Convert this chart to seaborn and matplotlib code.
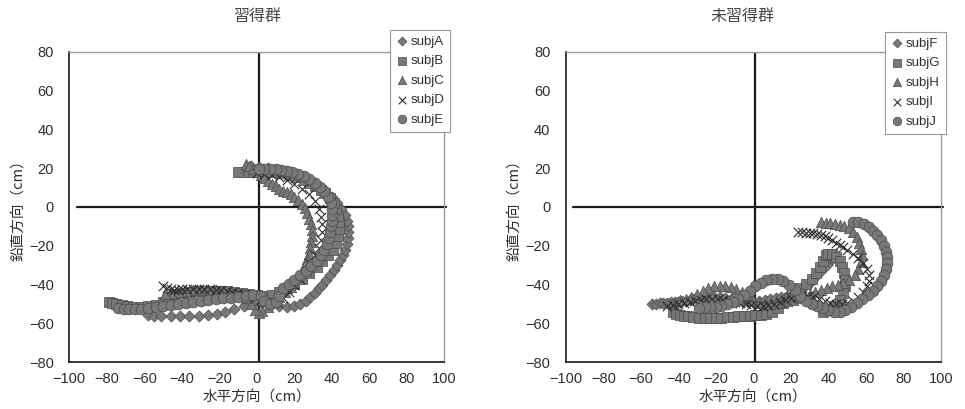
import numpy as np
import pandas as pd
import matplotlib
matplotlib.use("Agg")
import matplotlib.pyplot as plt
import seaborn as sns

# ---------------- data ----------------
panel_titles = ["習得群", "未習得群"]
x_label = "水平方向（cm）"
y_label = "鉛直方向（cm）"
x_ticks = [-100, -80, -60, -40, -20, 0, 20, 40, 60, 80, 100]
y_ticks = [-80, -60, -40, -20, 0, 20, 40, 60, 80]

# reference axes lines (drawn as data series)
hline_x = [-96, 101]
hline_y = [0, 0]
vline_x = [1, 1]
vline_y = [80, -80]

# ---- 習得群 ----
subjA_x = [-58, -55, -51, -46, -41, -36, -31, -26, -21, -17, -12, -7, -2, 3, 8, 12, 16, 20, 23, 26,
           28.5, 31, 33, 35, 37, 39, 41, 43, 44.5, 46, 47, 48, 48.5, 48.5, 48.5, 48, 47, 45, 43, 40,
           36, 31, 26, 21, 16, 11, 6, 1, -3]
subjA_y = [-55.5, -56, -56.3, -56.5, -56.5, -56.5, -56.3, -55.8, -55, -54, -52.5, -51, -50, -49.5, -50, -51, -51.5, -51, -50, -48.5,
           -46.5, -44.5, -42, -40, -37.5, -35, -32.5, -30, -27.5, -25, -22, -19, -16, -13, -10, -7, -4, -1, 2, 5,
           9, 12.5, 15, 17, 18.5, 19.5, 20, 20.5, 21]

subjB_x = [-79, -77, -75, -72, -69, -66, -62, -58, -54, -50, -47, -44, -40, -36, -32, -28, -24, -20, -16, -12,
           -8, -4, 0, 4, 8, 12, 16, 20, 24, 28, 32, 35, 38, 40.5, 42.5, 43.5, 44, 44, 43.5, 42.5,
           41, 39, 36.5, 34, 31, 28, 25, 21, 17, 13, 9, 5, 1, -3, -7, -10]
subjB_y = [-49, -49.5, -50, -50.5, -51, -51.5, -51.5, -51, -50.5, -49, -46.5, -45, -44.5, -44, -43.5, -43.5, -43.5, -43.5, -43.5, -44,
           -44.5, -45, -45.5, -46, -45.5, -44, -42, -39.5, -37, -34, -31, -28, -25, -22, -18.5, -15, -11.5, -8, -4.5, -1,
           2, 4.5, 7, 9, 11, 12.5, 14, 15.5, 16.5, 17.5, 18, 18, 18, 18, 18, 18]

subjC_x = [-6, -4, -2, 0, 2, 4, 6, 8, 10, 12, 14, 16, 18, 20, 22, 24, 25.5, 27, 28, 29,
           29.5, 29.5, 29, 28.5, 28, 27, 25.5, 24, 22, 20, 18, 15, 12, 9, 6, 3, 1, -1, -3, -6,
           -10, -14, -18, -22, -26, -30, -34, -38, -42, -46, -49]
subjC_y = [22, 21, 19.5, 18, 16.5, 15, 13.5, 12, 11, 9.5, 8.5, 7.5, 6.5, 5, 3.5, 1.5, -0.5, -3, -6, -9,
           -12, -15, -18, -21, -24, -27, -30, -33, -36, -39, -41.5, -44, -46.5, -49, -51.5, -53.5, -54.5, -53, -50, -47,
           -45, -44, -43.5, -43, -43, -43, -43, -43.5, -44, -44.5, -45]

subjD_x = [-50, -48, -46, -44, -42, -40, -37, -34, -31, -28, -25, -22, -19, -16, -13, -10, -7, -4, -1, 2,
           5, 8, 11, 14, 17, 20, 23, 26, 28.5, 31, 33, 34.5, 35, 35, 34.5, 33, 31, 28, 24, 20,
           16, 12, 8, 4, 0]
subjD_y = [-41, -42, -42.5, -43, -43, -42.5, -42.5, -42.5, -42.5, -42.5, -42.5, -43, -43, -43.5, -44, -44.5, -45, -46, -47, -48,
           -49, -49.5, -49, -47, -44, -40.5, -37, -33, -29, -25, -21, -17, -13, -9, -5, -1, 3, 6.5, 9.5, 12,
           14, 15.5, 16.5, 17, 17.5]

subjE_x = [-74, -71, -68, -65, -62, -58, -54, -50, -46, -42, -38, -34, -30, -26, -22, -18, -14, -10, -6, -2,
           2, 4, 7, 10, 12, 14, 17, 20, 23, 26, 29, 32, 34, 36, 37.5, 38.5, 39, 39.5, 40, 40,
           40, 39.5, 38, 36, 33.5, 31, 28, 25, 22, 19, 16, 13, 10, 7, 4, 1]
subjE_y = [-52, -52.5, -52.5, -52.5, -52.5, -52, -51.5, -51, -50.5, -50, -49.5, -49, -48.5, -48, -47.5, -47, -47, -46.5, -46, -45.5,
           -46, -48.5, -50, -49, -46, -42, -39.5, -37.5, -35, -33, -30.5, -28, -25, -22, -19, -16, -13, -10, -7, -4,
           -1, 2, 5, 8, 10.5, 12.5, 14.5, 16, 17, 18, 18.5, 19, 19.5, 19.5, 19.5, 19.5]

# ---- 未習得群 ----
subjF_x = [-54, -52, -50, -48, -46, -44, -42, -40, -38, -36, -34, -32, -30, -27, -24, -21, -18, -15, -12, -9,
           -6, -3, 0, 3, 6, 9, 12, 15, 18, 21, 24, 27, 30, 33, 36, 39, 42]
subjF_y = [-50, -50, -49.8, -49.6, -49.4, -49.2, -49, -48.8, -48.6, -48.3, -48, -47.6, -47.2, -46.8, -46.5, -46.3, -46.5, -47, -47.5, -48,
           -48.5, -49, -49, -48.5, -48, -47.5, -47, -46.5, -46, -45, -43.5, -41.5, -39, -36, -33, -30, -27]

subjG_x = [-43, -41, -39, -37, -35, -32, -29, -26, -23, -20, -17, -14, -11, -8, -5, -2, 1, 4, 7, 10,
           13, 16, 19, 22, 25, 28, 31, 33.5, 35.5, 37, 38.5, 40, 42, 44, 46, 47.5, 48.5, 49, 49, 48,
           46, 43, 40, 37]
subjG_y = [-54, -55, -55.5, -56, -56.5, -57, -57.3, -57.5, -57.5, -57.5, -57.3, -57, -56.8, -56.5, -56.2, -56, -55.8, -55.5, -55, -54,
           -52, -49.5, -47, -44.5, -42, -39.5, -37, -34, -31, -28, -25, -24, -24.5, -26, -28, -31, -34, -37.5, -41, -44.5,
           -48, -51, -53, -54]

subjH_x = [36, 38.5, 41, 43.5, 46, 48.5, 51, 53, 55, 56.5, 57.5, 58, 57.5, 56, 54, 51, 48, 45, 42, 39,
           36, 33, 30, 27, 24, 21, 18, 15, 12, 9, 6, 3, 0, -3, -6, -9, -12, -15, -18, -21,
           -24, -27, -30, -33, -36, -39]
subjH_y = [-8, -8.5, -8.5, -9, -9.5, -10, -11, -13, -15.5, -18.5, -21.5, -25, -28.5, -32, -35, -37.5, -39, -40, -41, -42,
           -43, -44, -45, -46, -47, -48, -48.5, -49, -49.5, -50, -50, -49.5, -48, -46, -44, -42.5, -41.5, -40.8, -40.6, -41,
           -42, -43.5, -45, -46.3, -47.3, -48]

subjI_x = [24, 26, 28, 30, 32, 34, 36, 38, 40, 42, 44, 46, 48, 50, 53, 56, 58.5, 60.5, 61.5, 61.5,
           60.5, 58.5, 56, 53, 50, 47, 44, 41, 38, 35, 32, 29, 26, 23, 20, 17, 14, 11, 8, 5,
           2, -1, -4, -7, -10, -13, -16, -19, -22, -25, -28, -31, -34, -37, -40, -43, -46]
subjI_y = [-13, -13, -13.2, -13.4, -13.6, -14, -14.5, -15, -16, -17, -18.5, -19.5, -20.5, -22, -24, -26.5, -29, -32, -35, -38,
           -41, -44, -46.5, -48.5, -49.5, -50, -50, -49.5, -48.5, -47.5, -46.5, -46, -46, -46.5, -47, -48, -49, -50, -50.5, -51,
           -51, -50.5, -50, -49.5, -49, -48.5, -48, -47.5, -47.5, -47.5, -48, -48.5, -49, -49.5, -50, -50.5, -51]

subjJ_x = [53, 56, 59, 61.5, 64, 66, 68, 69.5, 70.5, 71, 71, 70.5, 69.5, 68, 66, 63.5, 61, 58, 55, 52,
           49, 46, 43, 40, 37, 34, 31, 28, 25, 22, 19, 16, 13, 10, 7, 4, 1, -2, -5, -8,
           -11, -14, -17, -20, -23, -26, -29]
subjJ_y = [-7.5, -8, -9, -10.5, -12.5, -14.5, -17, -20, -23, -26, -29, -32, -35, -38, -41, -43.5, -45.5, -47.5, -49.5, -51.5,
           -53, -54, -54, -53, -52, -51, -50, -48.5, -46, -43, -40, -38, -37, -37, -37.5, -39, -41, -43.5, -45.5, -47.5,
           -49, -50, -51, -51.5, -51.5, -51.5, -52]

groups = [
    [("subjA", subjA_x, subjA_y), ("subjB", subjB_x, subjB_y), ("subjC", subjC_x, subjC_y),
     ("subjD", subjD_x, subjD_y), ("subjE", subjE_x, subjE_y)],
    [("subjF", subjF_x, subjF_y), ("subjG", subjG_x, subjG_y), ("subjH", subjH_x, subjH_y),
     ("subjI", subjI_x, subjI_y), ("subjJ", subjJ_x, subjJ_y)],
]

# ---------------- style ----------------
sns.set_theme(style="white")
plt.rcParams["font.family"] = ["Liberation Sans", "Noto Sans CJK JP", "DejaVu Sans"]
plt.rcParams["axes.unicode_minus"] = True
cjk = ["Noto Sans CJK JP", "DejaVu Sans"]

markers = ["D", "s", "^", "x", "o"]
sizes = [32, 56, 56, 46, 60]
fill = "#787878"
edge = "#4a4a4a"
text_col = "#2e2e2e"

fig = plt.figure(figsize=(9.65, 4.09), dpi=100)
ax_rects = [[69.3 / 965, 47 / 409, 375 / 965, 310 / 409],
            [565.7 / 965, 47 / 409, 375.3 / 965, 310 / 409]]
title_x = [257 / 965, 742 / 965]
legend_anchor = [(0.855, 1.072), (0.851, 1.066)]

for gi, (rect, series) in enumerate(zip(ax_rects, groups)):
    ax = fig.add_axes(rect)
    ax.plot(hline_x, hline_y, color="#1a1a1a", lw=1.6, clip_on=False, zorder=1)
    ax.plot(vline_x, vline_y, color="#1a1a1a", lw=1.6, zorder=1)
    for si, (name, xs, ys) in enumerate(series):
        df = pd.DataFrame({"x": xs, "y": ys})
        if markers[si] == "x":
            sns.scatterplot(data=df, x="x", y="y", ax=ax, marker="x", s=sizes[si],
                            color="#2a2a2a", linewidth=0.8, label=name, zorder=3)
        else:
            sns.scatterplot(data=df, x="x", y="y", ax=ax, marker=markers[si], s=sizes[si],
                            color=fill, edgecolor=edge, linewidth=0.5, label=name, zorder=3)
    ax.set_xlim(-100, 100)
    ax.set_ylim(-80, 80)
    ax.set_xticks(x_ticks)
    ax.set_yticks(y_ticks)
    ax.set_xticklabels([f"{t}".replace("-", "\u2212") for t in x_ticks])
    ax.set_yticklabels([f"{t}".replace("-", "\u2212") for t in y_ticks])
    ax.tick_params(axis="both", direction="in", length=4, width=0.8, colors="#555555",
                   labelcolor=text_col, labelsize=10.5)
    ax.tick_params(axis="y", pad=11)
    ax.tick_params(axis="x", pad=7)
    ax.spines["left"].set_color("#1a1a1a")
    ax.spines["bottom"].set_color("#1a1a1a")
    ax.spines["left"].set_linewidth(1.2)
    ax.spines["bottom"].set_linewidth(1.2)
    ax.spines["top"].set_color("#9a9a9a")
    ax.spines["right"].set_color("#9a9a9a")
    ax.spines["top"].set_linewidth(1.0)
    ax.spines["right"].set_linewidth(1.0)
    ax.set_xlabel(x_label, fontsize=10.5, color=text_col, labelpad=3, family=cjk)
    ax.set_ylabel(y_label, fontsize=10.5, color=text_col, labelpad=3, family=cjk)
    fig.text(title_x[gi], 1 - 17 / 409, panel_titles[gi], ha="center", va="center",
             fontsize=11.5, color="#444444", family=cjk)
    leg = ax.legend(loc="upper left", bbox_to_anchor=legend_anchor[gi], frameon=True,
                    fancybox=False, edgecolor="#999999", framealpha=1, fontsize=9.5,
                    handlelength=0.9, handletextpad=0.2, borderpad=0.45, labelspacing=0.55,
                    markerscale=0.8, borderaxespad=0)
    leg.get_frame().set_linewidth(0.8)
    leg.set_zorder(5)
    for t in leg.get_texts():
        t.set_color(text_col)

fig.savefig("out.png", dpi=100)
